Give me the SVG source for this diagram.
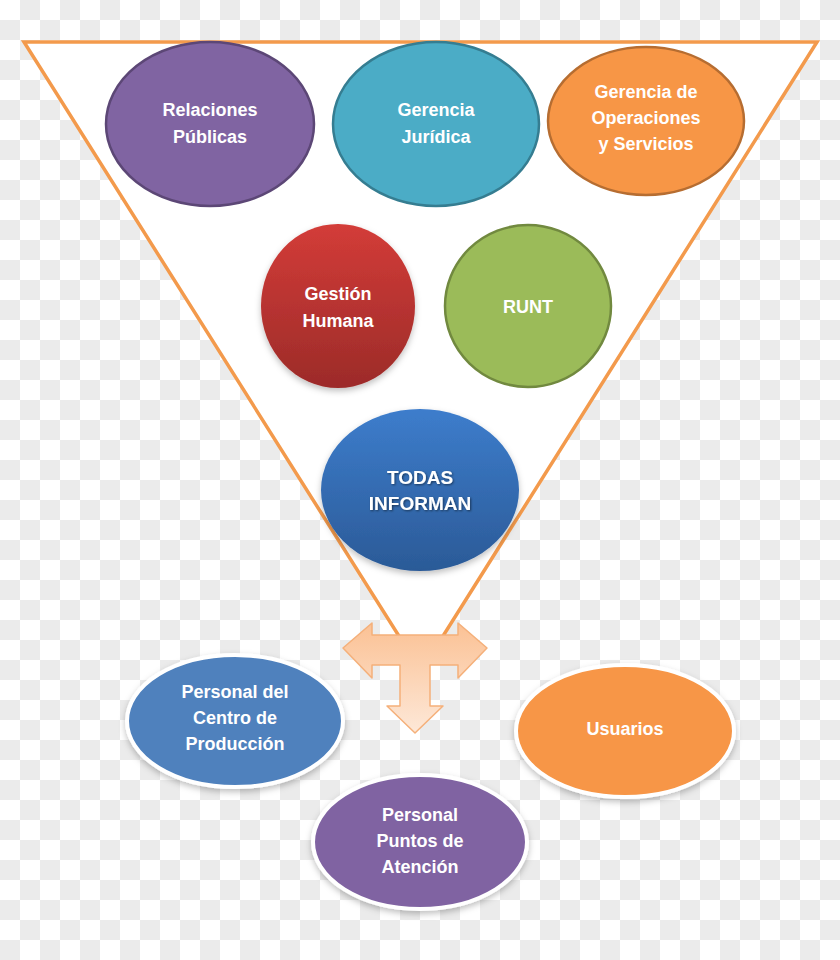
<svg xmlns="http://www.w3.org/2000/svg" width="840" height="960" viewBox="0 0 840 960">
<defs>
<pattern id="checker" width="40" height="40" patternUnits="userSpaceOnUse">
<rect width="40" height="40" fill="#ffffff"/>
<rect x="20" y="0" width="20" height="20" fill="#ebebeb"/>
<rect x="0" y="20" width="20" height="20" fill="#ebebeb"/>
</pattern>
<linearGradient id="gRed" x1="0" y1="0" x2="0" y2="1">
<stop offset="0" stop-color="#d33c38"/><stop offset="1" stop-color="#9c2b29"/>
</linearGradient>
<linearGradient id="gBlue" x1="0" y1="0" x2="0" y2="1">
<stop offset="0" stop-color="#3d7dcc"/><stop offset="1" stop-color="#2b5a97"/>
</linearGradient>
<linearGradient id="gArrow" x1="0" y1="0" x2="0" y2="1">
<stop offset="0" stop-color="#fbc194"/><stop offset="1" stop-color="#fde8d8"/>
</linearGradient>
<filter id="shadow" x="-20%" y="-20%" width="140%" height="140%">
<feDropShadow dx="0" dy="3" stdDeviation="3" flood-color="#000" flood-opacity="0.25"/>
</filter>
<filter id="tshadow" x="-10%" y="-30%" width="120%" height="160%">
<feDropShadow dx="1" dy="1" stdDeviation="0.8" flood-color="#000" flood-opacity="0.5"/>
</filter>
</defs>
<style>
.t{font-family:"Liberation Sans",Arial,sans-serif;font-size:18px;font-weight:bold;fill:#ffffff;text-anchor:middle}
.tb{font-family:"Liberation Sans",Arial,sans-serif;font-size:19px;font-weight:bold;fill:#ffffff;text-anchor:middle;filter:url(#tshadow)}
.top{stroke-width:2.5}
.bot{stroke:#ffffff;stroke-width:4;filter:url(#shadow)}
</style>
<rect width="840" height="960" fill="url(#checker)"/>
<g id="connectors">
<polygon id="funnel" points="24,42 817,42 421,671" fill="#ffffff" stroke="#f39a4c" stroke-width="3.5" stroke-linejoin="miter"/>
</g>
<g id="relaciones">
<ellipse class="top" cx="210" cy="124" rx="104" ry="82" fill="#8064a2" stroke="#5c4776"/>
<text class="t" x="210" y="116">Relaciones</text>
<text class="t" x="210" y="143">Públicas</text>
</g>
<g id="juridica">
<ellipse class="top" cx="436" cy="124" rx="103" ry="82" fill="#4bacc6" stroke="#357d91"/>
<text class="t" x="436" y="116">Gerencia</text>
<text class="t" x="436" y="143">Jurídica</text>
</g>
<g id="operaciones">
<ellipse class="top" cx="646" cy="121" rx="98" ry="74" fill="#f79646" stroke="#b66d31"/>
<text class="t" x="646" y="98">Gerencia de</text>
<text class="t" x="646" y="124">Operaciones</text>
<text class="t" x="646" y="150">y Servicios</text>
</g>
<g id="gestion">
<ellipse cx="338" cy="306" rx="77" ry="82" fill="url(#gRed)" filter="url(#shadow)"/>
<text class="t" x="338" y="300">Gestión</text>
<text class="t" x="338" y="327">Humana</text>
</g>
<g id="runt">
<ellipse class="top" cx="528" cy="306" rx="83" ry="81" fill="#9bbb59" stroke="#71893f"/>
<text class="t" x="528" y="313">RUNT</text>
</g>
<g id="todas">
<ellipse cx="420" cy="490" rx="99" ry="81" fill="url(#gBlue)" filter="url(#shadow)"/>
<text class="tb" x="420" y="484">TODAS</text>
<text class="tb" x="420" y="510">INFORMAN</text>
</g>
<g id="arrow">
<polygon points="343,648 372,623 372,635 458,635 458,623 487,648 458,678 458,665 430,665 430,706 443,706 415,733 387,706 400,706 400,665 372,665 372,678" fill="url(#gArrow)" stroke="#f5b07a" stroke-width="1.5" stroke-linejoin="round"/>
</g>
<g id="centro">
<ellipse class="bot" cx="235" cy="721" rx="108" ry="66" fill="#4f81bd"/>
<text class="t" x="235" y="698">Personal del</text>
<text class="t" x="235" y="724">Centro de</text>
<text class="t" x="235" y="750">Producción</text>
</g>
<g id="usuarios">
<ellipse class="bot" cx="625" cy="731" rx="109" ry="66" fill="#f79646"/>
<text class="t" x="625" y="735">Usuarios</text>
</g>
<g id="puntos">
<ellipse class="bot" cx="420" cy="842" rx="107" ry="67" fill="#8064a2"/>
<text class="t" x="420" y="821">Personal</text>
<text class="t" x="420" y="847">Puntos de</text>
<text class="t" x="420" y="873">Atención</text>
</g>
</svg>
